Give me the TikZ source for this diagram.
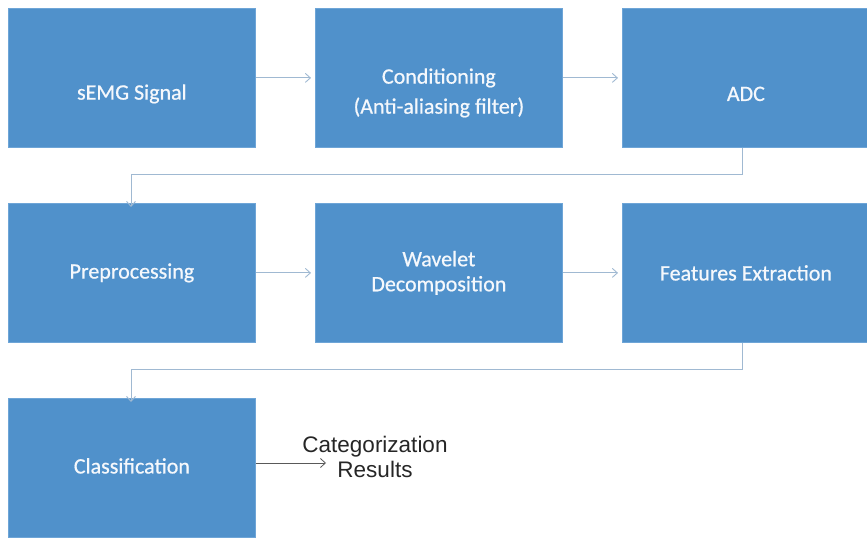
\documentclass[tikz,border=0pt]{standalone}
\usepackage{fontspec}
\setmainfont{Carlito}
\newfontfamily\boxfont[FakeBold=0.7]{Carlito}
\newfontfamily\arialfont{Liberation Sans}
\usetikzlibrary{arrows.meta}
\definecolor{boxblue}{RGB}{80,145,203}
\definecolor{boxedge}{RGB}{110,165,215}
\definecolor{arrowc}{RGB}{160,185,210}
\begin{document}
\begin{tikzpicture}[x=1pt,y=-1pt,
  stepbox/.style={draw=boxedge, line width=0.8pt, fill=boxblue, minimum width=247pt, minimum height=139pt, inner sep=0pt, anchor=north west},
  steptext/.style={text=white!94!boxblue, align=center, inner sep=0pt, font=\boxfont\fontsize{22}{25}\selectfont},
  conn/.style={draw=arrowc, line width=0.9pt, -{Straight Barb[length=5pt,width=9pt]}},
  darr/.style={draw=black!65, line width=0.8pt, -{Straight Barb[length=5pt,width=9pt]}}]
\useasboundingbox (0,0) rectangle (867,540);
\node[stepbox] (s1) at (8,8) {};
\node[stepbox] (s2) at (315,8) {};
\node[stepbox] (s3) at (622,8) {};
\node[stepbox] (s4) at (8,203) {};
\node[stepbox] (s5) at (315,203) {};
\node[stepbox] (s6) at (622,203) {};
\node[stepbox] (s7) at (8,398) {};
\node[steptext] (t1) at ([yshift=-16pt]s1.center) {sEMG Signal};
\node[steptext] (t2) at ([yshift=-15pt]s2.center) {Conditioning\\[5pt](Anti-aliasing filter)};
\node[steptext] (t3) at ([yshift=-16pt]s3.center) {ADC};
\node[steptext] (t4) at (s4.center) {Preprocessing};
\node[steptext] (t5) at (s5.center) {Wavelet\\Decomposition};
\node[steptext] (t6) at (s6.center) {Features Extraction};
\node[steptext] (t7) at ([yshift=2pt]s7.center) {Classification};
\node[font=\arialfont\fontsize{22.5}{25}\selectfont, text=black!85, align=center] (res) at (375,457) {Categorization\\Results};
\coordinate (tip) at (326,463);
\draw[conn] (s1.east) -- ([xshift=-4pt]s2.west);
\draw[conn] (s2.east) -- ([xshift=-4pt]s3.west);
\draw[conn] ([xshift=-3pt]s3.south) |- (131,174) -- ([yshift=-4pt]s4.north -| 131,0);
\draw[conn] (s4.east) -- ([xshift=-4pt]s5.west);
\draw[conn] (s5.east) -- ([xshift=-4pt]s6.west);
\draw[conn] ([xshift=-3pt]s6.south) |- (131,369) -- ([yshift=-4pt]s7.north -| 131,0);
\draw[darr] (s7.east |- tip) -- (tip);
\end{tikzpicture}
\end{document}
